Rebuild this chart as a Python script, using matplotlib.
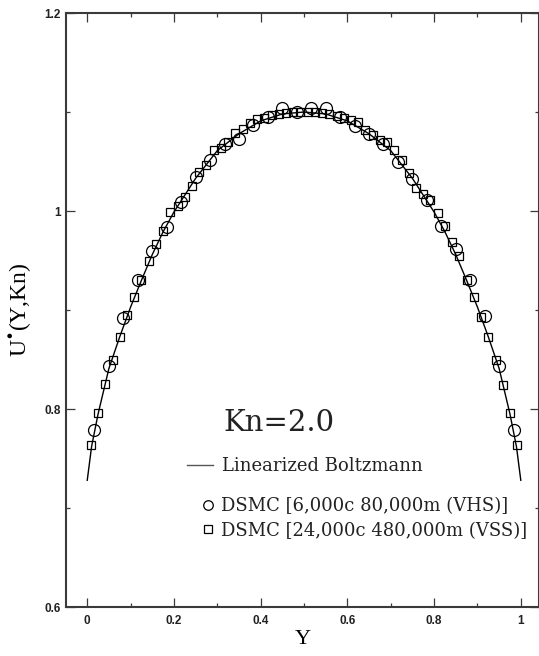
import matplotlib
matplotlib.use("Agg")
import matplotlib.pyplot as plt
from matplotlib.ticker import MultipleLocator, FixedLocator

# ---- data ----
line_x = [0.0, 0.01, 0.025, 0.05, 0.075, 0.1, 0.125, 0.15, 0.175, 0.2, 0.25, 0.3, 0.35, 0.4, 0.45, 0.5,
          0.55, 0.6, 0.65, 0.7, 0.75, 0.8, 0.825, 0.85, 0.875, 0.9, 0.925, 0.95, 0.975, 0.99, 1.0]
line_y = [0.728, 0.762, 0.795, 0.841, 0.873, 0.903, 0.930, 0.956, 0.979, 0.999, 1.033, 1.061, 1.078, 1.091, 1.098, 1.100,
          1.098, 1.091, 1.078, 1.061, 1.033, 0.999, 0.979, 0.956, 0.930, 0.903, 0.873, 0.841, 0.795, 0.762, 0.728]

vhs_x = [0.0167, 0.05, 0.0833, 0.1167, 0.15, 0.1833, 0.2167, 0.25, 0.2833, 0.3167,
         0.35, 0.3833, 0.4167, 0.45, 0.4833, 0.5167, 0.55, 0.5833, 0.6167, 0.65,
         0.6833, 0.7167, 0.75, 0.7833, 0.8167, 0.85, 0.8833, 0.9167, 0.95, 0.9833]
vhs_y = [0.779, 0.843, 0.892, 0.930, 0.960, 0.984, 1.009, 1.034, 1.052, 1.068,
         1.073, 1.087, 1.095, 1.104, 1.100, 1.104, 1.104, 1.095, 1.086, 1.078,
         1.068, 1.050, 1.032, 1.011, 0.985, 0.962, 0.930, 0.894, 0.843, 0.779]

vss_x = [0.0083, 0.025, 0.0417, 0.0583, 0.075, 0.0917, 0.1083, 0.125, 0.1417, 0.1583,
         0.175, 0.1917, 0.2083, 0.225, 0.2417, 0.2583, 0.275, 0.2917, 0.3083, 0.325,
         0.3417, 0.3583, 0.375, 0.3917, 0.4083, 0.425, 0.4417, 0.4583, 0.475, 0.4917,
         0.5083, 0.525, 0.5417, 0.5583, 0.575, 0.5917, 0.6083, 0.625, 0.6417, 0.6583,
         0.675, 0.6917, 0.7083, 0.725, 0.7417, 0.7583, 0.775, 0.7917, 0.8083, 0.825,
         0.8417, 0.8583, 0.875, 0.8917, 0.9083, 0.925, 0.9417, 0.9583, 0.975, 0.9917]
vss_y = [0.764, 0.796, 0.825, 0.850, 0.873, 0.895, 0.913, 0.930, 0.949, 0.967,
         0.980, 0.999, 1.005, 1.014, 1.025, 1.039, 1.046, 1.062, 1.064, 1.070,
         1.079, 1.083, 1.089, 1.093, 1.094, 1.097, 1.098, 1.099, 1.100, 1.100,
         1.100, 1.100, 1.099, 1.098, 1.096, 1.094, 1.092, 1.090, 1.082, 1.077,
         1.072, 1.070, 1.062, 1.052, 1.038, 1.023, 1.017, 1.011, 0.998, 0.985,
         0.969, 0.955, 0.930, 0.913, 0.893, 0.873, 0.850, 0.824, 0.796, 0.764]

x_ticks = [0, 0.2, 0.4, 0.6, 0.8, 1]
x_ticklabels = ["0", "0.2", "0.4", "0.6", "0.8", "1"]
y_ticks = [0.6, 0.8, 1.0, 1.2]
y_ticklabels = ["0.6", "0.8", "1", "1.2"]

label_line = "Linearized Boltzmann"
label_vhs = "DSMC [6,000c 80,000m (VHS)]"
label_vss = "DSMC [24,000c 480,000m (VSS)]"
annot = "Kn=2.0"

# ---- figure ----
plt.rcParams["mathtext.fontset"] = "dejavuserif"
fig = plt.figure(figsize=(5.39, 6.56), dpi=100)
ax = fig.add_axes([66 / 539, 49 / 656, 473 / 539, 594 / 656])

spine_c = "#3a3a3a"
ln, = ax.plot(line_x, line_y, color="black", lw=1.0, label=label_line, zorder=2)
pc, = ax.plot(vhs_x, vhs_y, ls="none", marker="o", ms=8.6, mfc="none", mec="black",
              mew=0.9, label=label_vhs, zorder=3)
ps, = ax.plot(vss_x, vss_y, ls="none", marker="s", ms=6.4, mfc="none", mec="black",
              mew=0.9, label=label_vss, zorder=3)

ax.set_xlim(-0.049, 1.042)
ax.set_ylim(0.6, 1.2)

ax.xaxis.set_major_locator(FixedLocator(x_ticks))
ax.set_xticklabels(x_ticklabels)
ax.yaxis.set_major_locator(FixedLocator(y_ticks))
ax.set_yticklabels(y_ticklabels)
ax.xaxis.set_minor_locator(MultipleLocator(0.1))
ax.yaxis.set_minor_locator(MultipleLocator(0.1))

ax.tick_params(which="both", direction="in", top=True, right=True, color=spine_c)
ax.tick_params(which="major", length=6.5, width=0.9)
ax.tick_params(which="minor", length=3.0, width=0.9)
ax.tick_params(axis="x", which="major", pad=6)
ax.tick_params(axis="y", which="major", pad=4)
for lab in ax.get_xticklabels() + ax.get_yticklabels():
    lab.set_fontfamily("Liberation Sans")
    lab.set_fontweight("bold")
    lab.set_fontsize(8.5)
    lab.set_color("#222222")

for sp in ax.spines.values():
    sp.set_linewidth(1.5)
    sp.set_color(spine_c)

ax.set_xlabel("Y", fontfamily="Liberation Serif", fontsize=16, labelpad=2)
ax.set_ylabel(r"U$^{\bullet}$(Y,Kn)", fontfamily="Liberation Serif", fontsize=17, labelpad=8)

ax.text(0.332, 0.310, annot, transform=ax.transAxes, fontfamily="DejaVu Serif",
        fontsize=21, ha="left", va="center", color="#222222")

leg1 = ax.legend(handles=[ln], loc="center left", bbox_to_anchor=(0.256, 0.237),
                 frameon=False, borderpad=0, borderaxespad=0, handlelength=1.44,
                 handletextpad=0.5, prop={"family": "DejaVu Serif", "size": 13})
for t in leg1.get_texts():
    t.set_color("#222222")
leg1.get_lines()[0].set_color("#555555")
ax.add_artist(leg1)

leg2 = ax.legend(handles=[pc, ps], loc="center left", bbox_to_anchor=(0.281, 0.149),
                 frameon=False, borderpad=0, borderaxespad=0, handlelength=1.0,
                 handletextpad=0.2, labelspacing=0.35, markerscale=0.8,
                 prop={"family": "DejaVu Serif", "size": 13})
for t in leg2.get_texts():
    t.set_color("#222222")

fig.savefig("out.png", dpi=100)
